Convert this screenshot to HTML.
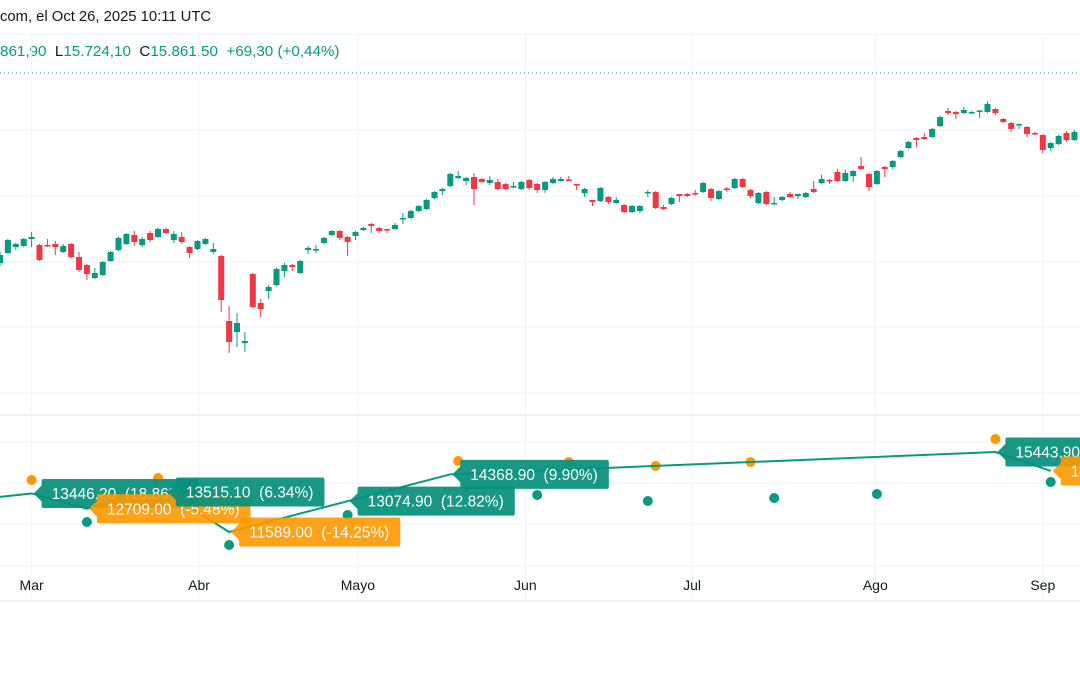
<!DOCTYPE html>
<html><head><meta charset="utf-8">
<style>
html,body{margin:0;padding:0;background:#fff;}
body{width:1080px;height:675px;overflow:hidden;position:relative;font-family:"Liberation Sans",sans-serif;}
.hdr{position:absolute;left:0;white-space:pre;font-size:14.8px;color:#131722;}
</style></head>
<body>
<div class="hdr" style="top:9px">com, el Oct 26, 2025 10:11 UTC</div>
<div class="hdr" style="top:43px;color:#089981;font-size:15.2px">861,90  <span style="color:#131722">L</span>15.724,10  <span style="color:#131722">C</span>15.861,50  +69,30 (+0,44%)</div>
<svg id="chart" width="1080" height="675" style="position:absolute;left:0;top:0"></svg>
<script>
// candle OHLC data (price)
const opens=[14370,14470,14530,14540,14610,14550,14550,14560,14480,14560,14430,14350,14220,14250,14390,14500,14560,14650,14550,14670,14630,14710,14600,14630,14530,14510,14560,14480,14440,13790,13680,13570,14260,13970,14090,14150,14290,14350,14270,14500,14500,14570,14650,14690,14630,14640,14700,14760,14720,14710,14710,14810,14820,14890,14910,15020,15090,15140,15220,15190,15230,15210,15170,15180,15160,15130,15110,15200,15160,15100,15170,15190,15205,15160,15070,15000,14990,15030,14970,14950,14880,14890,15070,15080,14930,14960,15060,15060,15070,15080,15110,15010,15115,15120,15210,15100,14970,15080,14960,15000,15060,15040,15030,15110,15170,15200,15280,15190,15240,15340,15260,15160,15330,15330,15430,15520,15620,15630,15630,15740,15890,15880,15870,15870,15885,15880,15910,15810,15770,15750,15730,15670,15650,15520,15560,15670,15600];
const highs=[14480,14610,14570,14620,14680,14560,14610,14590,14560,14570,14480,14360,14320,14390,14490,14630,14670,14690,14630,14690,14720,14720,14690,14680,14540,14600,14620,14570,14450,13940,13870,13680,14270,14010,14150,14320,14370,14360,14400,14540,14550,14630,14700,14700,14640,14690,14730,14770,14730,14710,14770,14870,14900,14950,15010,15090,15120,15270,15290,15230,15270,15220,15240,15210,15170,15180,15190,15210,15170,15190,15230,15230,15240,15160,15120,15000,15130,15040,15030,14960,14950,14950,15100,15090,14950,15030,15060,15070,15100,15180,15120,15100,15130,15220,15220,15110,15080,15090,15030,15040,15080,15060,15080,15190,15250,15210,15310,15300,15300,15430,15270,15300,15340,15400,15500,15590,15630,15670,15720,15840,15920,15890,15930,15890,15900,15990,15920,15820,15780,15760,15740,15680,15660,15580,15650,15690,15700];
const lows=[14340,14460,14500,14530,14530,14390,14530,14450,14470,14420,14280,14200,14210,14240,14380,14490,14550,14540,14530,14580,14620,14660,14570,14560,14420,14500,14550,14460,13880,13470,13530,13480,13920,13830,14010,14140,14230,14290,14260,14460,14470,14560,14640,14600,14440,14600,14690,14670,14670,14670,14700,14760,14810,14880,14900,15010,15050,15130,15210,15150,14950,15170,15150,15100,15100,15120,15100,15100,15070,15070,15160,15180,15190,15100,15030,14940,14980,14960,14960,14870,14870,14870,15030,14910,14900,14950,14980,15030,15040,15070,14990,15000,15080,15110,15120,15020,14960,14950,14960,14990,15020,15010,15020,15070,15160,15160,15180,15180,15180,15300,15090,15150,15230,15310,15420,15510,15530,15600,15620,15730,15850,15810,15860,15860,15820,15870,15850,15770,15680,15710,15630,15650,15470,15490,15550,15580,15590];
const closes=[14450,14600,14560,14610,14630,14400,14540,14530,14540,14430,14300,14260,14270,14380,14480,14620,14660,14580,14610,14600,14710,14670,14660,14580,14470,14590,14610,14510,14000,13580,13770,13590,13930,13910,14130,14310,14350,14330,14390,14520,14510,14620,14690,14620,14580,14680,14720,14740,14690,14700,14750,14820,14890,14940,15000,15080,15110,15260,15240,15220,15110,15180,15200,15110,15110,15140,15180,15120,15100,15180,15210,15210,15200,15150,15110,14980,15120,14980,15000,14880,14940,14940,15080,14920,14910,15020,15040,15040,15060,15170,15020,15090,15105,15210,15130,15040,15070,14960,14970,15030,15030,15060,15070,15080,15210,15190,15190,15270,15290,15310,15130,15290,15310,15390,15490,15580,15600,15610,15710,15830,15870,15860,15900,15880,15895,15960,15870,15780,15710,15760,15660,15660,15500,15570,15640,15600,15680];
// zigzag pivots (lower pane)
const pivotIdx=[-2,4,11,21,29,44,57,126,133];
const pivotVal=[13200,13446.2,12709.0,13515.1,11589.0,13074.9,14368.9,15443.9,14530.0];
const pivotPct=[null,"18.86%","-5.48%","6.34%","-14.25%","12.82%","9.90%","7.48%","-5.92%"];
// high/low dots
const highDotIdx=[4,20,58,72,83,95,126];
const highDotVal=[14095,14192,15011,14963,14770,14963,16072];
const lowDotIdx=[11,29,44,68,82,98,111,133];
const lowDotVal=[12071,10962,12408,13372,13083,13228,13421,13999];
// time axis
const monthLabels=["Mar","Abr","Mayo","Jun","Jul","Ago","Sep"];
const monthIdx=[4,25.2,45.3,66.5,87.6,110.8,132];

const NS="http://www.w3.org/2000/svg";
const svg=document.getElementById('chart');
function el(t,a,p){const e=document.createElementNS(NS,t);for(const k in a)e.setAttribute(k,a[k]);(p||svg).appendChild(e);return e;}
const xS=i=>i*7.9;
const yP=p=>(17000-p)/10;
const yL=v=>532-(v-11589)/48.2;
const GREEN="#089981",RED="#f23645",ORANGE="#ff9800";

// grid
const gg=el('g',{});


[34,64,130,196,262,327,393,442,483,524,566].forEach(y=>el('line',{x1:0,x2:1080,y1:y,y2:y,stroke:'#f0f3fa','stroke-width':1},gg));
el('line',{x1:0,x2:1080,y1:415,y2:415,stroke:'#e0e3eb','stroke-width':1},gg);
el('line',{x1:0,x2:1080,y1:601,y2:601,stroke:'#e0e3eb','stroke-width':1},gg);
monthIdx.forEach(i=>el('line',{x1:xS(i),x2:xS(i),y1:34,y2:601,stroke:'#f0f3fa','stroke-width':1},gg));
const dl=el('line',{x1:0,x2:1080,y1:73,y2:73,stroke:GREEN,'stroke-width':1,'stroke-dasharray':'1 3'});



// candles
const cg=el('g',{});


for(let i=0;i<opens.length;i++){
  const o=opens[i],c=closes[i],h=highs[i],l=lows[i],x=xS(i);
  const col=c>=o?GREEN:RED;
  const g=el('g',{},cg);
  
  
  el('line',{x1:x,x2:x,y1:yP(h),y2:yP(l),stroke:col,'stroke-width':1},g);
  const top=yP(Math.max(o,c)),bot=yP(Math.min(o,c));
  el('rect',{x:x-3,y:top,width:6,height:Math.max(1.5,bot-top),fill:col},g);
}

// dots
highDotIdx.forEach((d,k)=>{const c=el('circle',{cx:xS(d),cy:yL(highDotVal[k]),r:5,fill:ORANGE});

});
lowDotIdx.forEach((d,k)=>{const c=el('circle',{cx:xS(d),cy:yL(lowDotVal[k]),r:5,fill:GREEN});

});

// zigzag line
const pts=pivotIdx.map((d,k)=>xS(d)+','+yL(pivotVal[k])).join(' ');
const zz=el('polyline',{points:pts,fill:'none',stroke:GREEN,'stroke-width':2});



// labels
for(let k=1;k<pivotIdx.length;k++){
  const x=xS(pivotIdx[k]),y=yL(pivotVal[k]);
  const isHigh=pivotVal[k]>pivotVal[k-1];
  const col=isHigh?'rgba(8,143,124,0.93)':'rgba(255,152,0,0.9)';
  const txt=pivotVal[k].toFixed(2)+'\u00a0\u00a0('+pivotPct[k]+')';
  const g=el('g',{});
  
  
  const x0=x+2,r=x0+8,h=29;
  const p=el('path',{fill:col},g);
  const t=el('text',{x:r+10,y:y+5.5,fill:'#fff','font-size':15.5,'font-family':'Liberation Sans, sans-serif'},g);
  t.textContent=txt;
  const w=t.getComputedTextLength()+21;
  p.setAttribute('d',`M${x0},${y} L${r},${y-8} L${r},${y-h/2+2} Q${r},${y-h/2} ${r+2},${y-h/2} L${r+w-2},${y-h/2} Q${r+w},${y-h/2} ${r+w},${y-h/2+2} L${r+w},${y+h/2-2} Q${r+w},${y+h/2} ${r+w-2},${y+h/2} L${r+2},${y+h/2} Q${r},${y+h/2} ${r},${y+h/2-2} L${r},${y+8} Z`);
}

// month labels
monthLabels.forEach((m,k)=>{const t=el('text',{x:xS(monthIdx[k]),y:590,'text-anchor':'middle','font-size':14,fill:'#131722','font-family':'Liberation Sans, sans-serif'});
t.textContent=m;

});
</script>
</body></html>
